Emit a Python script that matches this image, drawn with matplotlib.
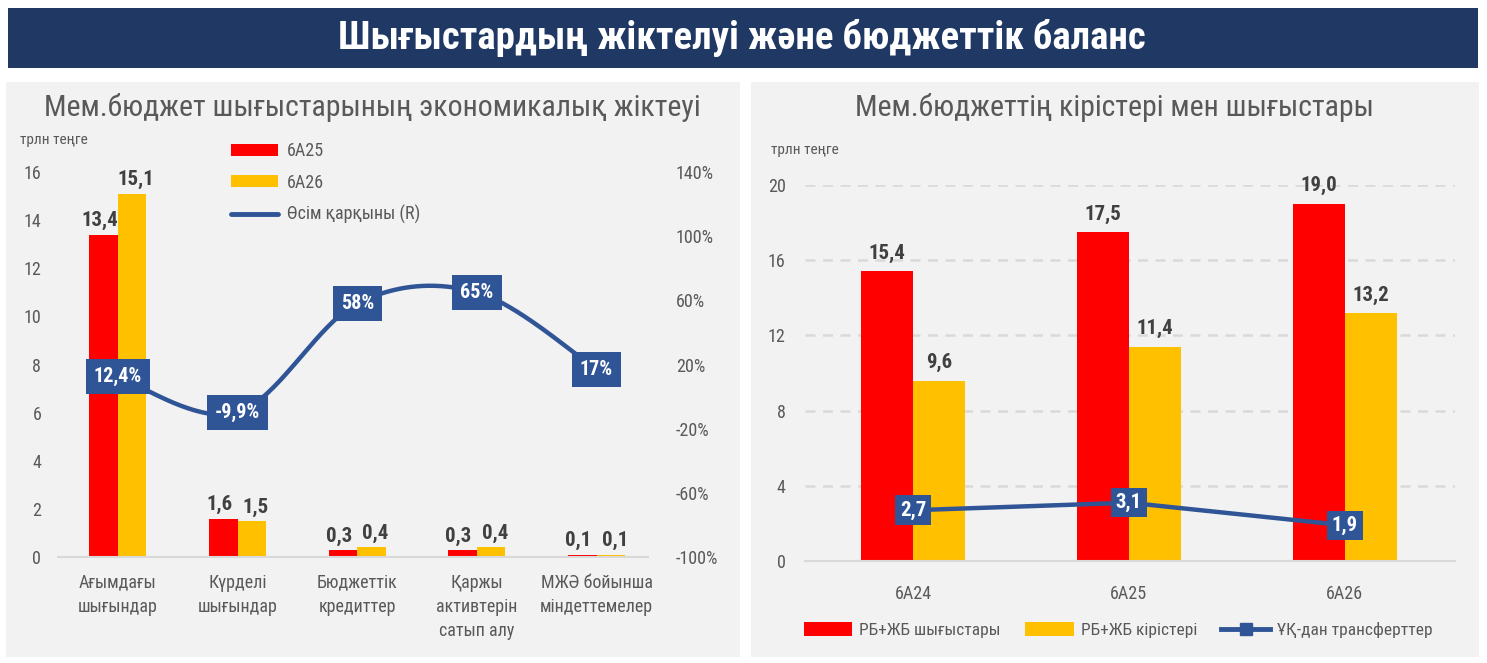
import os
import numpy as np
import matplotlib
matplotlib.use('Agg')
import matplotlib.pyplot as plt
from matplotlib import font_manager as fm
from matplotlib.patches import Rectangle, Patch
from matplotlib.lines import Line2D

# ---------------- data ----------------
cats_l = ['Ағымдағы\nшығындар', 'Күрделі\nшығындар', 'Бюджеттік\nкредиттер',
          'Қаржы\nактивтерін\nсатып алу', 'МЖӘ бойынша\nміндеттемелер']
v25 = [13.4, 1.6, 0.3, 0.3, 0.1]
v26 = [15.1, 1.5, 0.4, 0.4, 0.1]
growth = [12.4, -9.9, 58, 65, 17]
growth_lbl = ['12,4%', '-9,9%', '58%', '65%', '17%']

cats_r = ['6А24', '6А25', '6А26']
spend = [15.4, 17.5, 19.0]
income = [9.6, 11.4, 13.2]
transfers = [2.7, 3.1, 1.9]

# ---------------- style ----------------
RED = '#FF0000'
YEL = '#FFC000'
NAVY = '#2F5597'
BANNER = '#1F3864'
PANEL = '#F2F2F2'
GRAY = '#595959'
DARK = '#404040'
AXL = '#D9D9D9'

W, H = 1487, 663
fig = plt.figure(figsize=(W / 100, H / 100), dpi=100)
fig.patch.set_facecolor('white')


def find_font(bold):
    files = {os.path.basename(f.fname).lower(): f.fname for f in fm.fontManager.ttflist}
    if bold:
        names = ['robotocondensed-bold.ttf', 'robotocondensed-semibold.ttf',
                 'liberationsansnarrow-bold.ttf', 'dejavusanscondensed-bold.ttf']
    else:
        names = ['robotocondensed-regular.ttf', 'liberationsansnarrow-regular.ttf',
                 'dejavusanscondensed.ttf']
    for n in names:
        if n in files:
            return files[n]
    return None


FB = find_font(True)
FR = find_font(False)


def fp(size, bold=False):
    f = FB if bold else FR
    if f:
        return fm.FontProperties(fname=f, size=size)
    return fm.FontProperties(family='DejaVu Sans', weight='bold' if bold else 'normal',
                             stretch='condensed', size=size)


def pbox(x0, y0, x1, y1):
    return [x0 / W, 1 - y1 / H, (x1 - x0) / W, (y1 - y0) / H]


def fx(x):
    return x / W


def fy(y):
    return 1 - y / H


# background rectangles
for (x0, y0, x1, y1, c) in [(8, 8, 1478, 68, BANNER), (6, 82, 740, 657, PANEL),
                            (751, 82, 1479, 657, PANEL)]:
    fig.patches.append(Rectangle((fx(x0), fy(y1)), (x1 - x0) / W, (y1 - y0) / H,
                                 transform=fig.transFigure, facecolor=c, edgecolor='none',
                                 zorder=-10))

fig.text(fx(742), fy(38), 'Шығыстардың жіктелуі және бюджеттік баланс', color='white',
         fontproperties=fp(28, True), ha='center', va='center')
fig.text(fx(372), fy(108), 'Мем.бюджет шығыстарының экономикалық жіктеуі', color=GRAY,
         fontproperties=fp(21.5), ha='center', va='center')
fig.text(fx(1114), fy(107), 'Мем.бюджеттің кірістері мен шығыстары', color=GRAY,
         fontproperties=fp(21.5), ha='center', va='center')
fig.text(fx(20), fy(140), 'трлн теңге', color=GRAY, fontproperties=fp(11), ha='left', va='center')
fig.text(fx(771), fy(150), 'трлн теңге', color=GRAY, fontproperties=fp(11), ha='left', va='center')


def catmull(xs, ys, n=40):
    xs = list(xs); ys = list(ys)
    P = np.array([[xs[0], ys[0]]] + list(zip(xs, ys)) + [[xs[-1], ys[-1]]], dtype=float)
    out = []
    for i in range(1, len(P) - 2):
        p0, p1, p2, p3 = P[i - 1], P[i], P[i + 1], P[i + 2]
        for t in np.linspace(0, 1, n, endpoint=(i == len(P) - 3)):
            t2, t3 = t * t, t * t * t
            pt = 0.5 * ((2 * p1) + (-p0 + p2) * t + (2 * p0 - 5 * p1 + 4 * p2 - p3) * t2
                        + (-p0 + 3 * p1 - 3 * p2 + p3) * t3)
            out.append(pt)
    out = np.array(out)
    return out[:, 0], out[:, 1]


# ---------------- left chart ----------------
axL = fig.add_axes(pbox(58, 172, 648, 557))
axL.set_facecolor('none')
xl = np.arange(len(cats_l))
bw = 0.238
axL.bar(xl - bw / 2, v25, bw, color=RED, zorder=2)
axL.bar(xl + bw / 2, v26, bw, color=YEL, zorder=2)
axL.set_xlim(-0.5, 4.43)
axL.set_ylim(0, 16)
axL.set_yticks(np.arange(0, 17, 2))
axL.set_xticks(xl)
axL.set_xticklabels(cats_l)
for s in ['top', 'right', 'left']:
    axL.spines[s].set_visible(False)
axL.spines['bottom'].set_color(AXL)
axL.spines['bottom'].set_linewidth(1.5)
axL.tick_params(axis='both', length=0, colors=GRAY)
axL.tick_params(axis='y', pad=12)
axL.tick_params(axis='x', pad=12)
for t in axL.get_yticklabels():
    t.set_fontproperties(fp(13))
for t in axL.get_xticklabels():
    t.set_fontproperties(fp(13))
    t.set_linespacing(1.45)
    t.set_va('top')
for i in range(len(cats_l)):
    axL.annotate(f'{v25[i]:.1f}'.replace('.', ','), (xl[i] - bw / 2, v25[i]), xytext=(-3, 3),
                 textcoords='offset points', ha='center', va='bottom', color=DARK,
                 fontproperties=fp(15, True), zorder=5)
    axL.annotate(f'{v26[i]:.1f}'.replace('.', ','), (xl[i] + bw / 2, v26[i]), xytext=(3, 3),
                 textcoords='offset points', ha='center', va='bottom', color=DARK,
                 fontproperties=fp(15, True), zorder=5)

axL2 = axL.twinx()
axL2.set_ylim(-100, 140)
axL2.set_yticks(np.arange(-100, 141, 40))
axL2.set_yticklabels([f'{v}%' for v in range(-100, 141, 40)])
for s in ['top', 'right', 'left', 'bottom']:
    axL2.spines[s].set_visible(False)
axL2.tick_params(axis='y', length=0, colors=GRAY, pad=20)
for t in axL2.get_yticklabels():
    t.set_fontproperties(fp(13))
sx, sy = catmull(xl, growth)
axL2.plot(sx, sy, color=NAVY, lw=3.2, solid_capstyle='round', zorder=3)
for i in range(len(growth)):
    axL2.text(xl[i], growth[i], growth_lbl[i], ha='center', va='center', color='white',
              fontproperties=fp(14.5, True), zorder=6,
              bbox=dict(boxstyle='square,pad=0.4', facecolor=NAVY, edgecolor='none'))

hL = [Patch(facecolor=RED, label='6А25'), Patch(facecolor=YEL, label='6А26'),
      Line2D([0], [0], color=NAVY, lw=3.5, solid_capstyle='round', label='Өсім қарқыны (R)')]
leg = fig.legend(handles=hL, loc='upper left', bbox_to_anchor=(fx(231), fy(142)),
                 bbox_transform=fig.transFigure, frameon=False, prop=fp(13),
                 handlelength=2.6, handleheight=0.65, handletextpad=0.5, labelspacing=0.75,
                 borderpad=0, borderaxespad=0)
for t in leg.get_texts():
    t.set_color(GRAY)

# ---------------- right chart ----------------
axR = fig.add_axes(pbox(805, 185, 1455, 561))
axR.set_facecolor('none')
xr = np.arange(len(cats_r))
bw2 = 0.24
axR.bar(xr - bw2 / 2, spend, bw2, color=RED, zorder=2)
axR.bar(xr + bw2 / 2, income, bw2, color=YEL, zorder=2)
axR.set_xlim(-0.5, 2.51)
axR.set_ylim(0, 20)
axR.set_yticks(np.arange(0, 21, 4))
axR.set_xticks(xr)
axR.set_xticklabels(cats_r)
for yv in np.arange(4, 21, 4):
    axR.axhline(yv, color=AXL, lw=1.8, ls=(0, (4, 3)), zorder=1)
for s in ['top', 'right', 'left']:
    axR.spines[s].set_visible(False)
axR.spines['bottom'].set_color(AXL)
axR.spines['bottom'].set_linewidth(1.5)
axR.tick_params(axis='both', length=0, colors=GRAY)
axR.tick_params(axis='y', pad=14)
axR.tick_params(axis='x', pad=17)
for t in axR.get_yticklabels() + axR.get_xticklabels():
    t.set_fontproperties(fp(13))
for i in range(len(cats_r)):
    axR.annotate(f'{spend[i]:.1f}'.replace('.', ','), (xr[i] - bw2 / 2, spend[i]), xytext=(0, 6),
                 textcoords='offset points', ha='center', va='bottom', color=DARK,
                 fontproperties=fp(15, True), zorder=5, annotation_clip=False)
    axR.annotate(f'{income[i]:.1f}'.replace('.', ','), (xr[i] + bw2 / 2, income[i]), xytext=(0, 6),
                 textcoords='offset points', ha='center', va='bottom', color=DARK,
                 fontproperties=fp(15, True), zorder=5, annotation_clip=False)
axR.plot(xr, transfers, color=NAVY, lw=3.2, marker='s', markersize=8, zorder=3)
for i in range(len(transfers)):
    axR.text(xr[i], transfers[i], f'{transfers[i]:.1f}'.replace('.', ','), ha='center', va='center',
             color='white', fontproperties=fp(15, True), zorder=6,
             bbox=dict(boxstyle='square,pad=0.25', facecolor=NAVY, edgecolor='none'))

hR = [Patch(facecolor=RED, label='РБ+ЖБ шығыстары'), Patch(facecolor=YEL, label='РБ+ЖБ кірістері'),
      Line2D([0], [0], color=NAVY, lw=3.5, marker='s', markersize=8, label='ҰҚ-дан трансферттер')]
legR = fig.legend(handles=hR, loc='center', bbox_to_anchor=(fx(1118), fy(630)),
                  bbox_transform=fig.transFigure, frameon=False, prop=fp(12.5), ncol=3,
                  handlelength=2.8, handleheight=0.8, handletextpad=0.4, columnspacing=1.4,
                  borderpad=0, borderaxespad=0)
for t in legR.get_texts():
    t.set_color(GRAY)

fig.savefig('out.png', dpi=100, facecolor='white')
